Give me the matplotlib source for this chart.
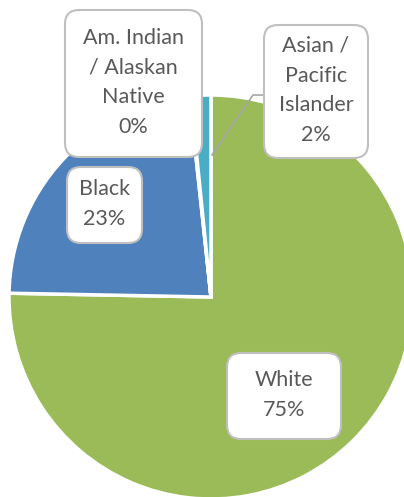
import matplotlib.pyplot as plt
from matplotlib.patches import FancyBboxPatch

# data: share of each group
groups = ["White", "Black", "Am. Indian\n/ Alaskan\nNative", "Asian /\nPacific\nIslander"]
shares = [75.3, 23.0, 0.1, 1.6]
colors = ["#9BBB59", "#4F81BD", "#8064A2", "#4BACC6"]

W, H = 404, 497
# label boxes (centre x, centre y, width, height) in pixels from top-left
boxes = [
	(284, 396, 114, 86),
	(104.5, 205, 75, 76),
	(133.5, 83.5, 137, 147),
	(316, 91.5, 104, 133),
]


def fy(y):
	return H - y


fig = plt.figure(figsize=(W / 100, H / 100), dpi=100)
ax = fig.add_axes([0, 0, 1, 1])
ax.pie(
	shares,
	colors=colors,
	startangle=90,
	counterclock=False,
	radius=202,
	center=(211, fy(297)),
	wedgeprops=dict(edgecolor="white", linewidth=2.5),
)
ax.set_xlim(0, W)
ax.set_ylim(0, H)
ax.set_aspect("equal")
ax.axis("off")

# leader line for the small Asian / Pacific Islander slice
ax.plot([212, 253, 265], [fy(155), fy(95), fy(95)], color="#A6A6A6", lw=1.2, zorder=4)

for name, val, (cx, cy, bw, bh) in zip(groups, shares, boxes):
	box = FancyBboxPatch(
		(cx - bw / 2, fy(cy) - bh / 2), bw, bh,
		boxstyle="round,pad=0,rounding_size=14",
		fc="white", ec="#BFBFBF", lw=1.5, zorder=5,
	)
	ax.add_patch(box)
	ax.text(
		cx, fy(cy) + 1, f"{name}\n{val:.0f}%",
		ha="center", va="center", fontsize=15.5, color="#595959",
		family=["Lato", "DejaVu Sans"], linespacing=1.62, zorder=6,
	)

fig.savefig("out.png", dpi=100)
